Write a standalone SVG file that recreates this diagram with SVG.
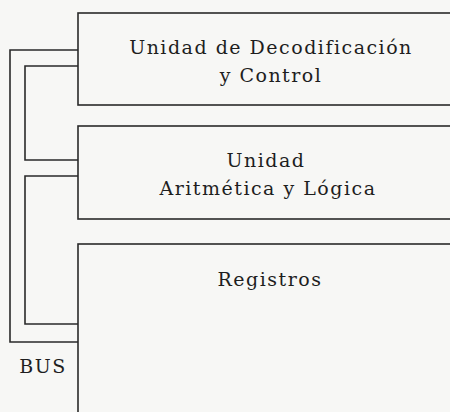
<svg xmlns="http://www.w3.org/2000/svg" width="450" height="412" viewBox="0 0 450 412">
<style>
.box{fill:none;stroke:#2a2a2a;stroke-width:1.6}
.bus{fill:none;stroke:#2a2a2a;stroke-width:1.6}
.t{font-family:"DejaVu Serif",serif;font-size:19px;fill:#1e1e1e;letter-spacing:1.5px;text-anchor:middle}
</style>
<rect x="0" y="0" width="450" height="412" fill="#f7f7f5"/>
<g id="connectors">
<polyline class="bus" points="78,50 10,50 10,342 78,342"/>
<polyline class="bus" points="78,66 25,66 25,160 78,160"/>
<polyline class="bus" points="78,176 25,176 25,324 78,324"/>
</g>
<g id="decodificacion">
<rect class="box" x="78" y="13" width="400" height="92"/>
<text class="t" x="271" y="54">Unidad de Decodificación</text>
<text class="t" x="271" y="82">y Control</text>
</g>
<g id="alu">
<rect class="box" x="78" y="126" width="400" height="93"/>
<text class="t" x="266" y="167">Unidad</text>
<text class="t" x="268" y="195">Aritmética y Lógica</text>
</g>
<g id="registros">
<rect class="box" x="78" y="244" width="400" height="200"/>
<text class="t" x="270" y="286">Registros</text>
</g>
<g id="bus-label">
<text class="t" x="43" y="373">BUS</text>
</g>
</svg>
